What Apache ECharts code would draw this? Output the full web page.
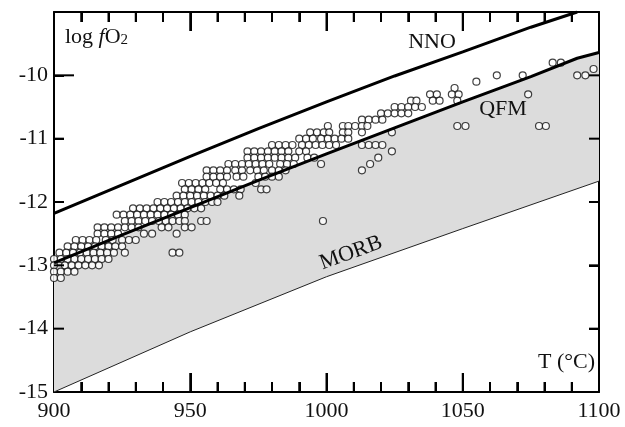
<!DOCTYPE html>
<html>
<head>
<meta charset="utf-8">
<script src="https://cdn.jsdelivr.net/npm/echarts@6/dist/echarts.min.js"></script>
<style>
html,body{margin:0;padding:0;background:#fff;}
#chart{width:625px;height:427px;}
</style>
</head>
<body>
<div id="chart"></div>
<script>
// Axis ranges and tick steps
const xRange = [900, 1100], xStep = 50, xMinorStep = 10;
const yRange = [-15, -9], yStep = 1;
const yHiddenLabel = -9;
const yLongTick = -10;

// Buffer curves (T in °C, log fO2)
const nnoT = [900, 925, 950, 975, 1000, 1025, 1050, 1075, 1092];
const nnoY = [-12.18, -11.73, -11.28, -10.84, -10.42, -10.01, -9.63, -9.24, -9.0];
const qfmT = [900, 925, 950, 975, 1000, 1025, 1050, 1075, 1092, 1100];
const qfmY = [-12.96, -12.52, -12.09, -11.66, -11.24, -10.83, -10.42, -10.02, -9.73, -9.64];
const morbT = [900, 950, 1000, 1050, 1100];
const morbY = [-15.0, -14.05, -13.18, -12.42, -11.67];

// Observations: rows of log fO2 with their temperatures
const obsLogfO2 = [-9.8, -9.9, -10.0, -10.1, -10.2, -10.3, -10.4, -10.5, -10.6, -10.7, -10.8, -10.9, -11.0, -11.1, -11.2, -11.3, -11.4, -11.5, -11.6, -11.7, -11.8, -11.9, -12.0, -12.1, -12.2, -12.3, -12.4, -12.5, -12.6, -12.7, -12.8, -12.9, -13.0, -13.1, -13.2];
const obsTemps = [
  [1083, 1086],
  [1098],
  [1062.5, 1072, 1092, 1095],
  [1055],
  [1047],
  [1038, 1040.5, 1046, 1048.5, 1074],
  [1031, 1033, 1039, 1041.5, 1048],
  [1025, 1027.5, 1030, 1032.5, 1035],
  [1020, 1022.5, 1025, 1027.5, 1030],
  [1013, 1015.5, 1018, 1020.5],
  [1000.5, 1006, 1008, 1010.5, 1013, 1015, 1048, 1051, 1078, 1080.5],
  [994, 996.5, 999, 1001, 1006, 1008, 1013, 1024],
  [990, 992.5, 995, 998, 1000.5, 1003, 1005.5, 1008],
  [980, 982.5, 985, 987.5, 991, 993.5, 996, 998.5, 1001, 1003.5, 1013, 1015.5, 1018, 1020.5],
  [971, 973.5, 976, 978.5, 981, 983.5, 986, 990, 992.5, 1024],
  [971, 973.5, 976, 978.5, 981, 983.5, 986, 988.5, 993, 995.5, 1019],
  [964, 966.5, 969, 971.5, 974, 976.5, 979, 983, 985.5, 988, 998, 1016],
  [956, 958.5, 961, 963.5, 966.5, 969, 972, 974.5, 977, 980, 982.5, 985, 1013],
  [956, 958.5, 961, 963.5, 967, 969.5, 975, 977.5, 980, 982.5],
  [947, 949.5, 952, 954.5, 957, 959.5, 962, 974],
  [948, 950.5, 953, 955.5, 961, 963.5, 966, 968.5, 976, 978],
  [945, 947.5, 950, 952.5, 955, 957.5, 960, 962.5, 968],
  [938, 940.5, 943, 945.5, 948, 950.5, 953, 955.5, 958, 960],
  [929, 931.5, 934, 936.5, 939, 941.5, 944, 946.5, 949, 951.5, 954],
  [923, 925.5, 928, 930.5, 933, 935.5, 938, 940.5, 943, 945.5, 948],
  [926, 928.5, 931, 933.5, 936, 938.5, 941, 943.5, 946, 948, 954, 956, 998.7],
  [916, 918.5, 921, 923.5, 926, 928.5, 931, 939.5, 942, 948, 950.5],
  [916, 918.5, 921, 923.5, 933, 936, 945],
  [908, 910.5, 913, 915.5, 919, 921.5, 925, 927.5, 930],
  [905, 907.5, 910, 912.5, 915, 917.5, 920, 922.5, 925],
  [902, 904.5, 907, 909.5, 912, 914.5, 917, 919.5, 922, 926, 943.5, 946],
  [900, 902.5, 905, 907.5, 910, 912.5, 915, 917.5, 920],
  [900, 904, 906.5, 909, 911.5, 914, 916.5],
  [900, 902.5, 905, 907.5],
  [900, 902.5]
];

const zip = (a, b) => a.map((v, i) => [v, b[i]]);
const obsData = [];
obsLogfO2.forEach((y, i) => obsTemps[i].forEach(t => obsData.push([t, y])));
const fillPoly = zip(qfmT, qfmY).concat(zip(morbT, morbY).reverse());

const FONT = 'Liberation Serif';
const axisColor = '#000';

const chart = echarts.init(document.getElementById('chart'), null, {renderer: 'canvas'});
const lineCfg = () => ({show: true, onZero: false, lineStyle: {color: axisColor, width: 2}});
const tickCfg = len => ({show: true, inside: true, length: len, lineStyle: {color: axisColor, width: 2}});
const minorCfg = () => ({show: true, splitNumber: 5, length: 10, lineStyle: {color: axisColor, width: 2}});
const labelCfg = (margin, fmt) => ({show: true, margin: margin, fontFamily: FONT, fontSize: 22, color: '#111', formatter: fmt});

// tick segments in data space: [value point, pixel offset dx, dy]
function tickList() {
  const out = [];
  for (let t = xRange[0] + xMinorStep; t < xRange[1]; t += xMinorStep) {
    const len = (t % xStep === 0) ? 19 : 10;
    out.push([[t, yRange[0]], 0, -len]);
    out.push([[t, yRange[1]], 0, len]);
  }
  for (let v = yRange[0] + yStep; v < yRange[1]; v += yStep) {
    out.push([[xRange[0], v], v === yLongTick ? 20 : 10, 0]);
    out.push([[xRange[1], v], -10, 0]);
  }
  return out;
}

chart.setOption({
  animation: false,
  backgroundColor: '#fff',
  grid: {left: 54, right: 26, top: 12, bottom: 35},
  xAxis: [
    {
      type: 'value', min: xRange[0], max: xRange[1], interval: xStep, position: 'bottom',
      axisLine: lineCfg(), axisTick: tickCfg(19), minorTick: minorCfg(),
      axisLabel: labelCfg(8, v => String(v)),
      splitLine: {show: false}, minorSplitLine: {show: false}
    },
    {
      type: 'value', min: xRange[0], max: xRange[1], interval: xStep, position: 'top',
      axisLine: lineCfg(), axisTick: tickCfg(19), minorTick: minorCfg(),
      axisLabel: {show: false},
      splitLine: {show: false}, minorSplitLine: {show: false}
    }
  ],
  yAxis: [
    {
      type: 'value', min: yRange[0], max: yRange[1], interval: yStep, position: 'left',
      axisLine: lineCfg(), axisTick: tickCfg(10),
      axisLabel: labelCfg(6, v => (v === yHiddenLabel ? '' : String(v))),
      splitLine: {show: false}
    },
    {
      type: 'value', min: yRange[0], max: yRange[1], interval: yStep, position: 'right',
      axisLine: lineCfg(), axisTick: tickCfg(10),
      axisLabel: {show: false},
      splitLine: {show: false}
    }
  ],
  series: [
    {
      type: 'custom', z: 1, silent: true,
      data: [[900, -13]],
      renderItem: function (params, api) {
        if (params.dataIndex !== 0) return null;
        return {
          type: 'polygon',
          shape: {points: fillPoly.map(p => api.coord(p))},
          style: {fill: '#dcdcdc', stroke: null}
        };
      }
    },
    {
      type: 'line', z: 3, data: zip(morbT, morbY), symbol: 'none',
      lineStyle: {color: '#222', width: 1}
    },
    {
      type: 'scatter', z: 4, data: obsData, symbol: 'circle', symbolSize: 7,
      itemStyle: {color: '#fff', borderColor: '#111', borderWidth: 1.2}
    },
    {
      type: 'line', z: 5, data: zip(qfmT, qfmY), symbol: 'none',
      lineStyle: {color: '#000', width: 3}
    },
    {
      type: 'line', z: 5, data: zip(nnoT, nnoY), symbol: 'none',
      lineStyle: {color: '#000', width: 3}
    }
  ]
});

// Frame ticks placed through the chart's own axis scales
const tickGraphics = tickList().map(([pt, dx, dy]) => {
  const p = chart.convertToPixel({gridIndex: 0}, pt);
  return {
    type: 'line', z: 20, silent: true,
    shape: {x1: p[0], y1: p[1], x2: p[0] + dx, y2: p[1] + dy},
    style: {stroke: axisColor, lineWidth: 2}
  };
});

const textGraphics = [
  {
    type: 'text', left: 65, top: 26, z: 10,
    style: {
      text: 'log {i|f}O{s|2}',
      font: '22px "Liberation Serif"', fill: '#111',
      rich: {
        i: {fontFamily: FONT, fontSize: 22, fontStyle: 'italic', fill: '#111'},
        s: {fontFamily: FONT, fontSize: 15, fill: '#111', verticalAlign: 'bottom', padding: [6, 0, 0, 0]}
      }
    }
  },
  {
    type: 'text', x: 432, y: 42, z: 10,
    style: {text: 'NNO', font: '22px "Liberation Serif"', fill: '#111', align: 'center', verticalAlign: 'middle'}
  },
  {
    type: 'text', x: 503, y: 109, z: 10,
    style: {text: 'QFM', font: '22px "Liberation Serif"', fill: '#111', align: 'center', verticalAlign: 'middle'}
  },
  {
    type: 'text', x: 351, y: 253, z: 10, rotation: 20 * Math.PI / 180,
    style: {text: 'MORB', font: '22px "Liberation Serif"', fill: '#111', align: 'center', verticalAlign: 'middle'}
  },
  {
    type: 'text', x: 595, y: 362, z: 10,
    style: {text: 'T (°C)', font: '22px "Liberation Serif"', fill: '#111', align: 'right', verticalAlign: 'middle'}
  }
];

chart.setOption({graphic: textGraphics.concat(tickGraphics)});
</script>
</body>
</html>
